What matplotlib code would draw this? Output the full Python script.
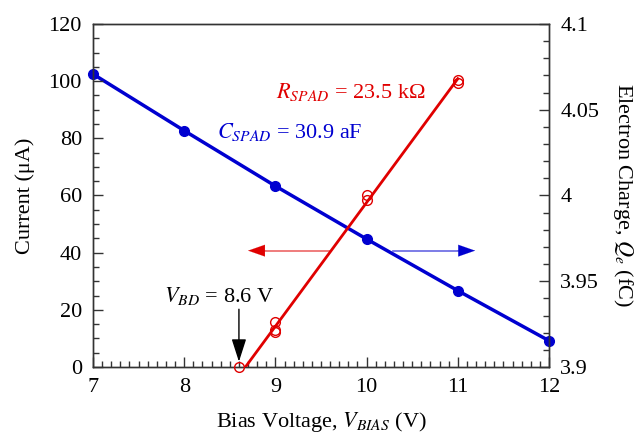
import numpy as np
import matplotlib
matplotlib.use('Agg')
import matplotlib.pyplot as plt
from matplotlib.ticker import MultipleLocator, FormatStrFormatter

# electron charge vs bias (right axis)
v_charge = [7, 8, 9, 10, 11, 12]
q_e = [4.0708, 4.0378, 4.0055, 3.9746, 3.9445, 3.9153]

# current vs bias (left axis)
v_current = [8.6, 9, 9, 9, 10, 10, 11, 11]
current = [0, 15.8, 13.0, 12.2, 60.0, 58.5, 100.5, 99.5]

v_bd = 8.6

plt.rcParams['font.family'] = ['Liberation Serif', 'DejaVu Serif']
plt.rcParams['mathtext.fontset'] = 'stix'
plt.rcParams['font.size'] = 16

red = '#e00000'
blue = '#0000d0'

fig, ax = plt.subplots(figsize=(6.41, 4.36), dpi=100)
fig.subplots_adjust(left=0.1451, right=0.8565, bottom=0.1583, top=0.945)
ax2 = ax.twinx()
ax.set_zorder(ax2.get_zorder() + 1)
ax.patch.set_visible(False)

# linear fit of the current above breakdown
vc = np.array(v_current)
ic = np.array(current)
m, b = np.polyfit(vc[ic > 0], ic[ic > 0], 1)
x0 = -b / m
xf = np.array([x0, max(v_current)])
ax.plot(xf, m * xf + b, color=red, lw=2, zorder=3)
ax.plot(v_current, current, 'o', mfc='none', mec=red, mew=1, ms=7, clip_on=False, zorder=4)

ax2.plot(v_charge, q_e, '-o', color=blue, lw=2.5, ms=7, clip_on=False)

# direction arrows
ax.plot([9.6, 8.85], [40.7, 40.7], color=red, lw=1.2, alpha=0.6)
ax.annotate('', xy=(8.70, 40.7), xytext=(8.90, 40.7),
            arrowprops=dict(arrowstyle='-|>,head_length=1.2,head_width=0.42',
                            mutation_scale=10, color=red, lw=0.1, shrinkA=0, shrinkB=0))
ax.plot([10.29, 11.0], [40.7, 40.7], color=blue, lw=1.2, alpha=0.6)
ax.annotate('', xy=(11.19, 40.7), xytext=(10.99, 40.7),
            arrowprops=dict(arrowstyle='-|>,head_length=1.2,head_width=0.42',
                            mutation_scale=10, color=blue, lw=0.1, shrinkA=0, shrinkB=0))

# breakdown arrow
ax.annotate('', xy=(v_bd, 1.85), xytext=(v_bd, 20.2),
            arrowprops=dict(arrowstyle='-|>,head_length=1.4,head_width=0.45',
                            mutation_scale=10, color='black', lw=1, shrinkA=0, shrinkB=0))
ax.text(8.38, 22.7, r'$V_{BD}$ = 8.6 V', ha='center', va='baseline')
ax.text(9.01, 94.1, r'$R_{SPAD}$ = 23.5 kΩ', color=red, ha='left', va='baseline')
ax.text(8.36, 80.1, r'$C_{SPAD}$ = 30.9 aF', color=blue, ha='left', va='baseline')

ax.set_xlim(7, 12)
ax.set_ylim(0, 120)
ax2.set_ylim(3.9, 4.1)

ax.xaxis.set_major_locator(MultipleLocator(1))
ax.xaxis.set_minor_locator(MultipleLocator(0.1))
ax.yaxis.set_major_locator(MultipleLocator(20))
ax.yaxis.set_minor_locator(MultipleLocator(5))
ax2.yaxis.set_major_locator(MultipleLocator(0.05))
ax2.yaxis.set_minor_locator(MultipleLocator(0.01))
ax2.yaxis.set_major_formatter(FormatStrFormatter('%g'))

for a in (ax, ax2):
    a.tick_params(which='both', direction='in', width=1, color='#333333')
    a.tick_params(which='major', length=7, pad=8)
    a.tick_params(which='minor', length=4)
    for s in a.spines.values():
        s.set_color('#333333')
        s.set_linewidth(1)
ax.tick_params(which='both', top=False, right=False)

ax.set_xlabel(r'Bias Voltage, $V_{BIAS}$ (V)', labelpad=9)
ax.set_ylabel('Current (μA)', labelpad=10)
ax2.set_ylabel(r'Electron Charge, $Q_e$ (fC)', rotation=270, labelpad=26)

plt.savefig('out.png', dpi=100)
